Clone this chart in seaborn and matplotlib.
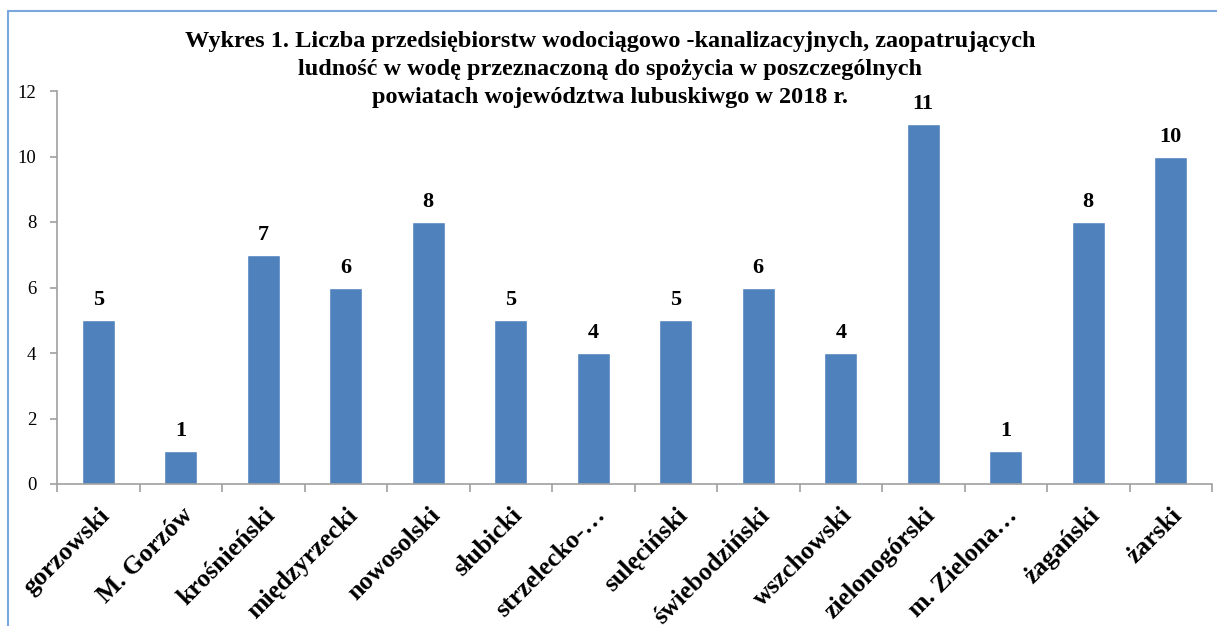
import matplotlib
matplotlib.use("Agg")
import matplotlib.pyplot as plt
import seaborn as sns
import pandas as pd
from matplotlib.lines import Line2D

categories = ["gorzowski", "M. Gorzów", "krośnieński", "międzyrzecki", "nowosolski",
              "słubicki", "strzelecko-…", "sulęciński", "świebodziński", "wszchowski",
              "zielonogórski", "m. Zielona…", "żagański", "żarski"]
values = [5, 1, 7, 6, 8, 5, 4, 5, 6, 4, 11, 1, 8, 10]
yticks = [0, 2, 4, 6, 8, 10, 12]
title_lines = ["Wykres 1. Liczba przedsiębiorstw wodociągowo -kanalizacyjnych, zaopatrujących",
               "ludność w wodę przeznaczoną do spożycia w poszczególnych",
               "powiatach województwa lubuskiwgo w 2018 r."]

sns.set_style("white")
plt.rcParams['font.family'] = ['Liberation Serif', 'DejaVu Serif']
plt.rcParams['text.color'] = 'black'
plt.rcParams['xtick.color'] = 'black'
plt.rcParams['ytick.color'] = 'black'

df = pd.DataFrame({"cat": categories, "val": values})

fig = plt.figure(figsize=(12.17, 6.26), dpi=100)
ax = fig.add_axes([57/1217, 1-484/626, (1212-57)/1217, (484-91)/626])
sns.barplot(data=df, x="cat", y="val", color="#4F81BD", saturation=1, width=0.4, ax=ax)

ax.set_xlim(-0.5, len(categories) - 0.5)
ax.set_ylim(0, 12)
ax.set_yticks(yticks)
ax.set_yticklabels([str(t) for t in yticks], fontsize=13.5)
ax.set_xlabel("")
ax.set_ylabel("")

for s in ["top", "right"]:
    ax.spines[s].set_visible(False)
for s in ["left", "bottom"]:
    ax.spines[s].set_color("#A0A0A0")
    ax.spines[s].set_linewidth(1.2)

ax.tick_params(axis="y", direction="out", length=5, width=1.2, color="#A0A0A0",
               labelcolor="black", pad=10, left=True)
# x ticks at category boundaries
ax.set_xticks([i - 0.5 for i in range(len(categories) + 1)], minor=True)
ax.tick_params(axis="x", which="minor", direction="out", length=6, width=1.2, color="#A0A0A0", bottom=True)
ax.set_xticks(range(len(categories)))
ax.set_xticklabels(categories, rotation=45, ha="right", rotation_mode="anchor",
                   fontsize=18.5, fontweight="bold", color="black")
ax.tick_params(axis="x", which="major", length=0, pad=14)

for i, v in enumerate(values):
    ax.text(i, v + 0.3, str(v), ha="center", va="bottom", fontsize=16,
            fontweight="bold", color="black")

for k, line in enumerate(title_lines):
    fig.text(610/1217, 1 - (42 + 28 * k)/626, line, ha="center", va="center",
             fontsize=17.5, fontweight="bold", color="black")

# outer frame (top and left edges)
fig.add_artist(Line2D([8/1217, 8/1217], [0, 1 - 11/626], transform=fig.transFigure,
                      color="#7AA7DE", lw=1.5))
fig.add_artist(Line2D([8/1217, 1], [1 - 11/626, 1 - 11/626], transform=fig.transFigure,
                      color="#7AA7DE", lw=1.5))

fig.savefig("out.png", dpi=100)
